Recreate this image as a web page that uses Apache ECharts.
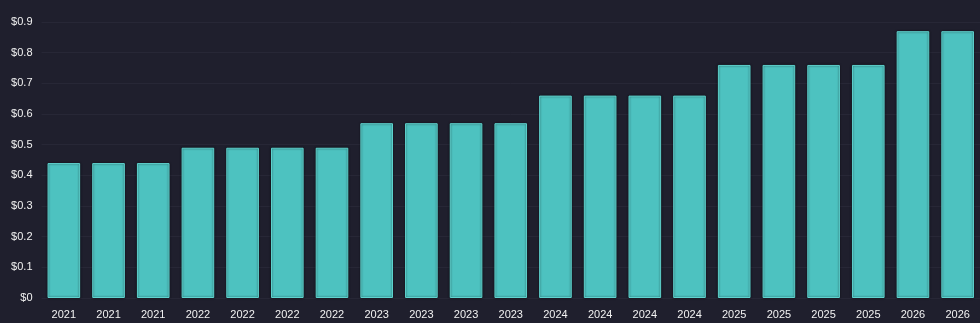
<!DOCTYPE html>
<html>
<head>
<meta charset="utf-8">
<script src="https://cdn.jsdelivr.net/npm/echarts@6/dist/echarts.min.js"></script>
<style>
html,body{margin:0;padding:0;background:#1f1f2d;}
#c{width:980px;height:323px;}
</style>
</head>
<body>
<div id="c"></div>
<script>
const categories = ["2021","2021","2021","2022","2022","2022","2022","2023","2023","2023","2023","2024","2024","2024","2024","2025","2025","2025","2025","2026","2026"];
const dividends = [0.44,0.44,0.44,0.49,0.49,0.49,0.49,0.57,0.57,0.57,0.57,0.66,0.66,0.66,0.66,0.76,0.76,0.76,0.76,0.87,0.87];
const yTicks = {min:0, max:0.9, interval:0.1};

const chart = echarts.init(document.getElementById('c'), null, {renderer:'canvas'});
chart.setOption({
  backgroundColor:'#1f1f2d',
  animation:false,
  grid:{left:41.5, top:22, width:944, height:276, containLabel:false},
  xAxis:{
    type:'category',
    data:categories,
    axisLine:{show:false},
    axisTick:{show:false},
    axisLabel:{color:'#f2f2f2', fontFamily:'Liberation Sans, Arial, sans-serif', fontSize:11, margin:11, interval:0}
  },
  yAxis:{
    type:'value',
    min:yTicks.min, max:yTicks.max, interval:yTicks.interval,
    axisLine:{show:false},
    axisTick:{show:false},
    splitLine:{lineStyle:{color:'#272736', width:1}},
    axisLabel:{color:'#f2f2f2', fontFamily:'Liberation Sans, Arial, sans-serif', fontSize:11, margin:9,
      formatter:v=>'$'+(+v.toFixed(2))}
  },
  series:[{
    type:'bar',
    data:dividends,
    barCategoryGap:'27%',
    itemStyle:{color:'#4dc2c0', borderColor:'#5fd3cf', borderWidth:1,
      shadowColor:'rgba(0,0,0,0.6)', shadowBlur:2}
  }]
});
</script>
</body>
</html>
